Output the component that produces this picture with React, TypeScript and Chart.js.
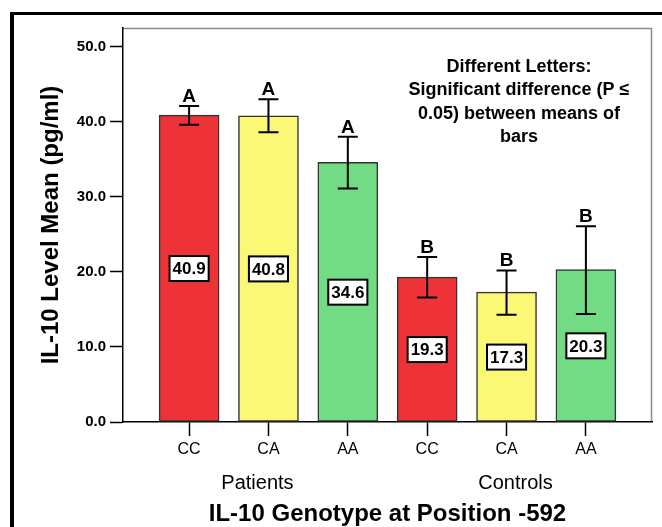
import React, { useEffect, useRef } from "react";
import { Chart, registerables } from "chart.js";

Chart.register(...registerables);

const categories = ["CC", "CA", "AA", "CC", "CA", "AA"];
const means = [40.9, 40.8, 34.6, 19.3, 17.3, 20.3];
const errLow = [39.6, 38.6, 31.1, 16.6, 14.3, 14.4];
const errHigh = [42.1, 43.0, 38.0, 22.0, 20.2, 26.1];
const sigLetters = ["A", "A", "A", "B", "B", "B"];
const barColors = ["#EE3338", "#FAF874", "#72DC84", "#EE3338", "#FAF874", "#72DC84"];
const groups = ["Patients", "Controls"];
const groupMembers = [[0, 1, 2], [3, 4, 5]];
const yTicks = [0, 10, 20, 30, 40, 50];
const noteLines = [
  "Different Letters:",
  "Significant difference (P \u2264",
  "0.05) between means of",
  "bars",
];

const FONT = "'Liberation Sans', Arial, sans-serif";
const NARROW = "'Liberation Sans Narrow', 'Liberation Sans', Arial, sans-serif";

const decorPlugin = {
  id: "decor",
  beforeDraw(chart: any) {
    const { ctx, chartArea: ca } = chart;
    ctx.save();
    ctx.fillStyle = "#fff";
    ctx.fillRect(0, 0, chart.width, chart.height);
    ctx.fillStyle = "#000";
    ctx.fillRect(10, 12, chart.width, 3);
    ctx.fillRect(10, 12, 4, chart.height);
    ctx.strokeStyle = "#8a8a8a";
    ctx.lineWidth = 1.5;
    ctx.beginPath();
    ctx.moveTo(ca.left, ca.top + 0.5);
    ctx.lineTo(ca.right - 0.5, ca.top + 0.5);
    ctx.lineTo(ca.right - 0.5, ca.bottom);
    ctx.stroke();
    ctx.restore();
  },
  afterDatasetsDraw(chart: any) {
    const { ctx, chartArea: ca } = chart;
    const xs = chart.scales.x;
    const ys = chart.scales.y;
    ctx.save();
    ctx.strokeStyle = "#000";
    means.forEach((_, i) => {
      const x = xs.getPixelForValue(i);
      const yh = ys.getPixelForValue(errHigh[i]);
      const yl = ys.getPixelForValue(errLow[i]);
      ctx.lineWidth = 2;
      ctx.beginPath();
      ctx.moveTo(x, yh);
      ctx.lineTo(x, yl);
      ctx.moveTo(x - 10, yh);
      ctx.lineTo(x + 10, yh);
      ctx.moveTo(x - 10, yl);
      ctx.lineTo(x + 10, yl);
      ctx.stroke();
      ctx.fillStyle = "#000";
      ctx.font = `bold 19px ${FONT}`;
      ctx.textAlign = "center";
      ctx.textBaseline = "alphabetic";
      ctx.fillText(sigLetters[i], x, yh - 4);
      const vy = ys.getPixelForValue(means[i] / 2);
      ctx.font = `bold 17px ${NARROW}`;
      const label = means[i].toFixed(1);
      const w = ctx.measureText(label).width + 6;
      const h = 25;
      ctx.fillStyle = "#fff";
      ctx.fillRect(x - w / 2, vy - h / 2, w, h);
      ctx.lineWidth = 2;
      ctx.strokeRect(x - w / 2, vy - h / 2, w, h);
      ctx.fillStyle = "#000";
      ctx.textBaseline = "middle";
      ctx.fillText(label, x, vy + 1);
    });
    ctx.font = `bold 18px ${FONT}`;
    ctx.textAlign = "center";
    ctx.textBaseline = "middle";
    ctx.fillStyle = "#000";
    noteLines.forEach((t, k) => {
      ctx.fillText(t, ca.right - 133, ca.top + 39 + k * 23.5);
    });
    ctx.font = `20px ${FONT}`;
    const offsets = [-11, 9];
    groups.forEach((g, k) => {
      const m = groupMembers[k];
      const mid = m.reduce((a, b) => a + b, 0) / m.length;
      ctx.fillText(g, xs.getPixelForValue(mid) + offsets[k], ca.bottom + 61);
    });
    ctx.restore();
  },
};

export default function App() {
  const ref = useRef<HTMLCanvasElement | null>(null);
  useEffect(() => {
    if (!ref.current) return;
    Chart.defaults.color = "#000";
    const chart = new Chart(ref.current, {
      type: "bar",
      data: {
        datasets: [
          {
            data: means.map((v, i) => ({ x: i, y: v })),
            backgroundColor: barColors,
            borderColor: "#333",
            borderWidth: 1.5,
            borderSkipped: false,
            barThickness: 60,
          },
        ],
      },
      options: {
        responsive: false,
        animation: false,
        layout: { padding: { left: 0, right: 10, top: 28, bottom: 0 } },
        plugins: { legend: { display: false }, tooltip: { enabled: false } },
        scales: {
          x: {
            type: "linear",
            offset: false,
            min: -0.833,
            max: 5.833,
            afterBuildTicks: (s: any) => {
              s.ticks = categories.map((_, i) => ({ value: i }));
            },
            afterFit: (s: any) => {
              s.height = 105;
            },
            ticks: {
              callback: (v: any) => categories[Math.round(v)] ?? "",
              font: { family: NARROW, size: 16 },
              color: "#000",
              padding: 4,
              maxRotation: 0,
              autoSkip: false,
            },
            grid: { offset: false, drawOnChartArea: false, tickLength: 14, color: "#000", tickWidth: 1.5 },
            border: { display: true, color: "#000", width: 1.5 },
            title: {
              display: true,
              text: "IL-10 Genotype at Position -592",
              font: { family: FONT, size: 24, weight: "bold", lineHeight: 1 },
              color: "#000",
              padding: { top: 0, bottom: 1 },
            },
          },
          y: {
            min: 0,
            max: 52.5,
            afterBuildTicks: (s: any) => {
              s.ticks = yTicks.map((v) => ({ value: v }));
            },
            afterFit: (s: any) => {
              s.width = 123;
            },
            ticks: {
              callback: (v: any) => Number(v).toFixed(1),
              font: { family: NARROW, size: 15, weight: "bold" },
              color: "#000",
              padding: 4,
            },
            grid: { drawOnChartArea: false, tickLength: 13, color: "#000", tickWidth: 1.5 },
            border: { display: true, color: "#000", width: 1.5 },
            title: {
              display: true,
              text: "IL-10 Level Mean (pg/ml)",
              font: { family: FONT, size: 24, weight: "bold", lineHeight: 1 },
              color: "#000",
              padding: { top: 39, bottom: 0 },
            },
          },
        },
      },
      plugins: [decorPlugin],
    } as any);
    return () => chart.destroy();
  }, []);
  return (
    <div style={{ position: "fixed", left: 0, top: 0, width: 662, height: 527, background: "#fff" }}>
      <canvas ref={ref} width={662} height={527} style={{ display: "block" }} />
    </div>
  );
}
